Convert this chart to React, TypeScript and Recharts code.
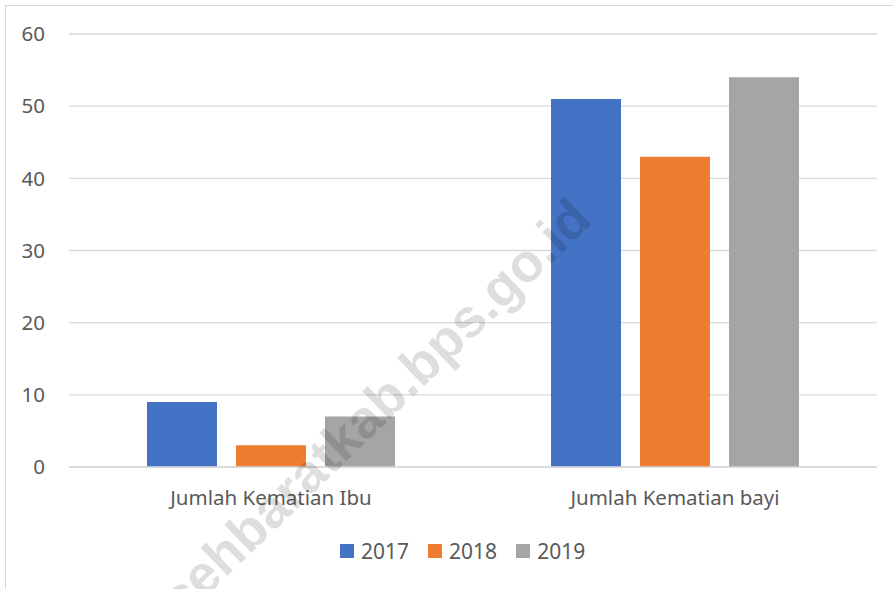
import React from 'react';
import { BarChart, Bar, XAxis, YAxis, CartesianGrid, Legend } from 'recharts';

const categories = ['Jumlah Kematian Ibu', 'Jumlah Kematian bayi'];
const years = ['2017', '2018', '2019'];
const values2017 = [9, 51];
const values2018 = [3, 43];
const values2019 = [7, 54];
const yTicks = [0, 10, 20, 30, 40, 50, 60];
const colors = ['#4472C4', '#ED7D31', '#A5A5A5'];

const data = categories.map((name, i) => ({
  name,
  '2017': values2017[i],
  '2018': values2018[i],
  '2019': values2019[i],
}));

const font = '"Noto Sans", sans-serif';

const LegendContent = () => (
  <div style={{ display: 'flex', justifyContent: 'flex-start', paddingLeft: 340, paddingTop: 12, fontFamily: font, fontSize: 21, color: '#595959' }}>
    {years.map((y, i) => (
      <div key={y} style={{ display: 'flex', alignItems: 'center', marginRight: i < years.length - 1 ? 19 : 0 }}>
        <span style={{ width: 14, height: 14, background: colors[i], marginRight: 7, display: 'inline-block' }} />
        <span>{y}</span>
      </div>
    ))}
  </div>
);

export default function App() {
  return (
    <div style={{ position: 'absolute', left: 0, top: 0, width: 893, height: 589, background: '#fff', overflow: 'hidden' }}>
      <div style={{ position: 'absolute', left: 5, top: 5, width: 1000, height: 1000, borderTop: '1.5px solid #d9d9d9', borderLeft: '1.5px solid #d9d9d9' }} />
      <BarChart
        width={893}
        height={589}
        data={data}
        margin={{ top: 34, right: 16, left: 0, bottom: 0 }}
        barSize={70}
        barGap={19}
        style={{ position: 'absolute', left: 0, top: 0 }}
      >
        <CartesianGrid vertical={false} stroke="#d9d9d9" strokeWidth={1.3} />
        <XAxis
          dataKey="name"
          axisLine={{ stroke: '#d9d9d9', strokeWidth: 1.3 }}
          tickLine={false}
          tickSize={0}
          tickMargin={23}
          height={58}
          tick={{ fill: '#595959', fontSize: 20.5, fontFamily: font }}
        />
        <YAxis
          domain={[0, 60]}
          ticks={yTicks}
          axisLine={false}
          tickLine={false}
          tickSize={0}
          tickMargin={24}
          width={69}
          tick={{ fill: '#595959', fontSize: 20.5, fontFamily: font }}
        />
        <Legend verticalAlign="bottom" height={64} content={<LegendContent />} />
        {years.map((y, i) => (
          <Bar key={y} dataKey={y} fill={colors[i]} isAnimationActive={false} />
        ))}
      </BarChart>
      <svg width={893} height={589} style={{ position: 'absolute', left: 0, top: 0, pointerEvents: 'none' }}>
        <text
          x={594}
          y={222}
          textAnchor="end"
          transform="rotate(-44 594 222)"
          fontFamily='"Liberation Sans", Arial, sans-serif'
          fontWeight="bold"
          fontSize={54}
          fill="#000"
          fillOpacity={0.13}
        >
          acehbaratkab.bps.go.id
        </text>
      </svg>
    </div>
  );
}
